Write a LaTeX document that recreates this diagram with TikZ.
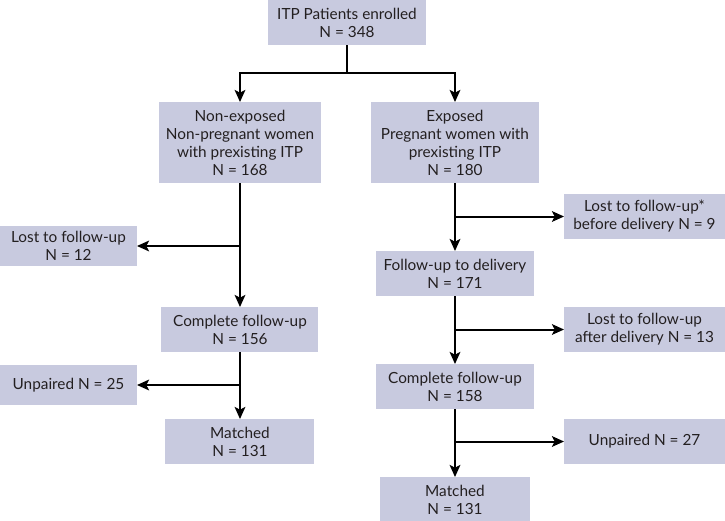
\documentclass[tikz,border=0pt]{standalone}
\usepackage{fontspec}
\setmainfont{Lato}
\usetikzlibrary{arrows.meta,positioning}
\definecolor{boxfill}{HTML}{C8CADF}
\definecolor{inkgray}{HTML}{231F20}

\begin{document}
\begin{tikzpicture}[
  >={Stealth[length=9pt,width=8pt,inset=2pt]},
  line width=1.5pt,
  every node/.style={font=\fontsize{11.5}{13.5}\selectfont, text=inkgray},
  stage/.style={fill=boxfill, align=center, inner sep=0pt, outer sep=0pt, minimum height=33.75pt},
  drop/.style={stage, minimum width=120.75pt},
  dropL/.style={stage, minimum width=102.75pt, minimum height=30pt}
]
\useasboundingbox (-260.25pt,16.875pt) rectangle (283.5pt,-373.875pt);
\node[stage, minimum width=118.5pt] (enrol) {ITP Patients enrolled\\N = 348};
\node[stage, minimum width=121.5pt, minimum height=60.75pt, below=42.75pt of enrol, xshift=-80.25pt] (nonexp) {Non-exposed\\Non-pregnant women\\with prexisting ITP\\N = 168};
\node[stage, minimum width=126pt, minimum height=60.75pt, below=42.75pt of enrol, xshift=81pt] (exp) {Exposed\\Pregnant women with\\prexisting ITP\\N = 180};
% non-exposed arm
\node[stage, minimum width=117.75pt, below=93pt of nonexp] (compA) {Complete follow-up\\N = 156};
\node[stage, minimum width=111.75pt, below=50.25pt of compA] (matchA) {Matched\\N = 131};
\node[dropL, below left=32.25pt and 16.5pt of nonexp] (lostA) {Lost to follow-up\\N = 12};
\node[dropL, below=74.25pt of lostA] (unpA) {Unpaired N = 25};
% exposed arm
\node[stage, minimum width=117.75pt, below=51pt of exp] (folB) {Follow-up to delivery\\N = 171};
\node[stage, minimum width=117.75pt, below=51pt of folB] (compB) {Complete follow-up\\N = 158};
\node[stage, minimum width=111.75pt, below=51pt of compB] (matchB) {Matched\\N = 131};
\node[drop, below right=8.25pt and 18.75pt of exp] (lostB) {Lost to follow-up*\\before delivery N = 9};
\node[drop, below=51pt of lostB] (lostC) {Lost to follow-up\\after delivery N = 13};
\node[drop, below=50.25pt of lostC] (unpB) {Unpaired N = 27};

\draw[->] (enrol.south) -- ++(0,-21pt) -| (nonexp.north);
\draw[->] (enrol.south) -- ++(0,-21pt) -| (exp.north);
\draw[->] (nonexp) -- (compA);
\draw[->] (compA) -- (matchA);
\draw[->] (nonexp |- lostA) -- (lostA);
\draw[->] (compA |- unpA) -- (unpA);
\draw[->] (exp) -- (folB);
\draw[->] (folB) -- (compB);
\draw[->] (compB) -- (matchB);
\draw[->] (exp |- lostB) -- (lostB);
\draw[->] (folB |- lostC) -- (lostC);
\draw[->] (compB |- unpB) -- (unpB);
\end{tikzpicture}
\end{document}
